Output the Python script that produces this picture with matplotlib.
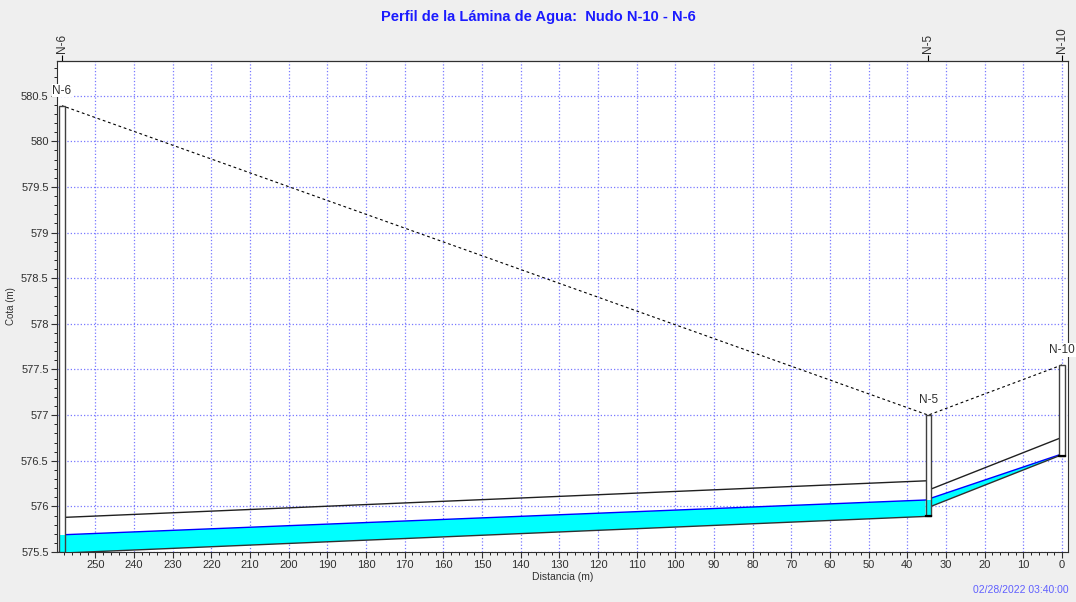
import matplotlib.pyplot as plt
from matplotlib.patches import Rectangle, Polygon
from matplotlib.ticker import MultipleLocator

plt.rcParams['font.family'] = ['Liberation Sans', 'DejaVu Sans']

# nudos: distancia (m), cota de tapa, cota de fondo, nivel de agua
nodos = ['N-10', 'N-5', 'N-6']
dist_nodo = [0.0, 34.6, 258.6]
cota_tapa = [577.55, 577.0, 580.39]
cota_fondo = [576.555, 575.89, 575.49]
nivel_agua_nodo = [576.56, 576.07, 575.69]

# tramos: (nodo inicial, nodo final), cota de fondo en cada extremo, diametro, agua
tramos = [(0, 1), (1, 2)]
fondo_ini = [576.555, 575.89]
fondo_fin = [576.0, 575.49]
diametro = [0.19, 0.39]
agua_ini = [576.565, 576.07]
agua_fin = [576.09, 575.69]

ancho_pozo = 1.4
titulo = 'Perfil de la Lámina de Agua:  Nudo N-10 - N-6'
fecha = '02/28/2022 03:40:00'

fig = plt.figure(figsize=(10.76, 6.02), dpi=100, facecolor='#efefef')
ax = fig.add_axes([0.053, 0.083, 0.9396, 0.8157])
ax.set_facecolor('white')

# tramos de tuberia
for k, (i, j) in enumerate(tramos):
    x0 = dist_nodo[i] + ancho_pozo / 2
    x1 = dist_nodo[j] - ancho_pozo / 2
    ax.add_patch(Polygon([(x0, fondo_ini[k]), (x1, fondo_fin[k]),
                          (x1, agua_fin[k]), (x0, agua_ini[k])],
                         closed=True, facecolor='#00ffff', edgecolor='none', zorder=3))
    ax.plot([x0, x1], [agua_ini[k], agua_fin[k]], color='#0000ff', lw=1.0, zorder=4)
    ax.plot([x0, x1], [fondo_ini[k], fondo_fin[k]], color='#303030', lw=1.0, zorder=4)
    ax.plot([x0, x1], [fondo_ini[k] + diametro[k], fondo_fin[k] + diametro[k]],
            color='#202020', lw=1.0, zorder=4)

# pozos
for n in range(len(nodos)):
    x = dist_nodo[n] - ancho_pozo / 2
    ax.add_patch(Rectangle((x, cota_fondo[n]), ancho_pozo, cota_tapa[n] - cota_fondo[n],
                           facecolor='white', edgecolor='none', zorder=5))
    ax.add_patch(Rectangle((x, cota_fondo[n]), ancho_pozo, nivel_agua_nodo[n] - cota_fondo[n],
                           facecolor='#00ffff', edgecolor='none', zorder=6))
    ax.add_patch(Rectangle((x, cota_fondo[n]), ancho_pozo, cota_tapa[n] - cota_fondo[n],
                           facecolor='none', edgecolor='#404040', lw=1.0, zorder=7))
    ax.plot([x, x + ancho_pozo], [cota_fondo[n], cota_fondo[n]], color='black', lw=1.6, zorder=8)
    ax.text(dist_nodo[n], cota_tapa[n] + 0.1, nodos[n], ha='center', va='bottom',
            fontsize=8.5, color='#303030', zorder=9,
            bbox=dict(facecolor='white', edgecolor='none', pad=0.5))

# terreno
ax.plot(dist_nodo, cota_tapa, color='black', lw=0.8, ls=(0, (2.5, 2.5)), zorder=4)

ax.set_xlim(259.9, -1.55)
ax.set_ylim(575.5, 580.88)
ax.xaxis.set_major_locator(MultipleLocator(10))
ax.xaxis.set_minor_locator(MultipleLocator(2))
ax.yaxis.set_major_locator(MultipleLocator(0.5))
ax.yaxis.set_minor_locator(MultipleLocator(0.1))
ax.yaxis.set_major_formatter(plt.FuncFormatter(lambda v, p: f'{v:g}'))
ax.grid(True, which='major', color='#7878ff', ls=':', lw=0.9, zorder=1)
ax.tick_params(labelsize=8, colors='#303030', length=4, pad=2)
ax.tick_params(which='minor', length=2)
for s in ax.spines.values():
    s.set_color('#303030')

ax.set_xlabel('Distancia (m)', fontsize=7.5, color='#303030', labelpad=1)
ax.set_ylabel('Cota (m)', fontsize=7, color='#303030', labelpad=4)

top = ax.secondary_xaxis('top')
top.set_xticks(dist_nodo)
top.set_xticklabels(nodos, rotation=90, fontsize=8.5, color='#303030')
top.tick_params(length=4, pad=2)

fig.text(0.5, 0.972, titulo, ha='center', va='center', fontsize=10.5,
         fontweight='bold', color='#1a1aff')
fig.text(0.993, 0.012, fecha, ha='right', va='bottom', fontsize=7.5, color='#6060ff')

fig.savefig('out.png', dpi=100, facecolor=fig.get_facecolor())
